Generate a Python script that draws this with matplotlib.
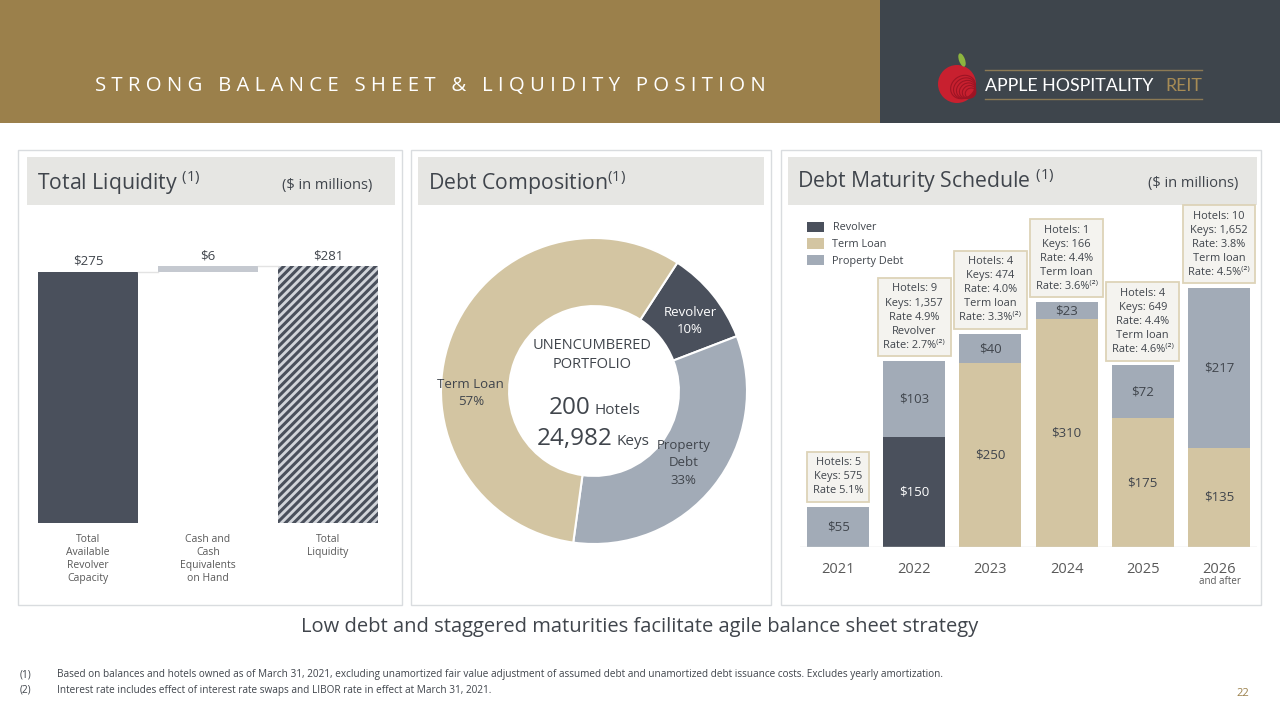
import matplotlib
matplotlib.use("Agg")
import matplotlib.pyplot as plt
from matplotlib.patches import Rectangle, Circle, Ellipse
import numpy as np

plt.rcParams['font.family'] = ['Open Sans', 'DejaVu Sans']
plt.rcParams['mathtext.fontset'] = 'custom'
plt.rcParams['mathtext.rm'] = 'Open Sans'
plt.rcParams['mathtext.default'] = 'regular'
plt.rcParams['hatch.linewidth'] = 2.2

# ---- data ----
liq_labels = ["Total\nAvailable\nRevolver\nCapacity", "Cash and\nCash\nEquivalents\non Hand", "Total\nLiquidity"]
liq_values = [275, 6, 281]

comp_labels = ["Revolver\n10%", "Property\nDebt\n33%", "Term Loan\n57%"]
comp_pct = [10, 33, 57]

years = ["2021", "2022", "2023", "2024", "2025", "2026"]
revolver = [0, 150, 0, 0, 0, 0]
term_loan = [0, 0, 250, 310, 175, 135]
property_debt = [55, 103, 40, 23, 72, 217]
maturity_notes = [
    "Hotels: 5\nKeys: 575\nRate 5.1%",
    "Hotels: 9\nKeys: 1,357\nRate 4.9%\nRevolver\nRate: 2.7%⁽²⁾",
    "Hotels: 4\nKeys: 474\nRate: 4.0%\nTerm loan\nRate: 3.3%⁽²⁾",
    "Hotels: 1\nKeys: 166\nRate: 4.4%\nTerm loan\nRate: 3.6%⁽²⁾",
    "Hotels: 4\nKeys: 649\nRate: 4.4%\nTerm loan\nRate: 4.6%⁽²⁾",
    "Hotels: 10\nKeys: 1,652\nRate: 3.8%\nTerm loan\nRate: 4.5%⁽²⁾",
]

footnotes = [
    "Based on balances and hotels owned as of March 31, 2021, excluding unamortized fair value adjustment of assumed debt and unamortized debt issuance costs. Excludes yearly amortization.",
    "Interest rate includes effect of interest rate swaps and LIBOR rate in effect at March 31, 2021.",
]

# ---- colours ----
GOLD = '#9B804B'
DARK = '#3E454C'
C_REV = '#4A505C'
C_TERM = '#D3C5A2'
C_PROP = '#A2ABB7'
TXT = '#40454C'
BAND = '#E6E6E3'

W, H = 1280, 720
fig = plt.figure(figsize=(12.8, 7.2), dpi=100)
fig.patch.set_facecolor('white')


def px_axes(x0, y0, x1, y1, **kw):
    # axes from pixel box (top-left origin)
    return fig.add_axes([x0 / W, 1 - y1 / H, (x1 - x0) / W, (y1 - y0) / H], **kw)


bg = fig.add_axes([0, 0, 1, 1])
bg.set_xlim(0, W)
bg.set_ylim(H, 0)
bg.axis('off')

# header
bg.add_patch(Rectangle((0, 0), 880, 123, color=GOLD, lw=0))
bg.add_patch(Rectangle((880, 0), 400, 123, color=DARK, lw=0))
title = "STRONG BALANCE SHEET & LIQUIDITY POSITION"
bg.text(95, 86, " ".join(title), color='white', fontsize=14.7, va='center', ha='left')

# logo
bg.add_patch(Circle((957, 84), 19, color='#C8202F', lw=0))
for k in range(6):
    bg.add_patch(Ellipse((963 + k * 1.5, 87 + k * 1.2), 26 - k * 3, 22 - k * 2.5, angle=-35,
                         fill=False, ec='#9E1424', lw=0.8))
bg.add_patch(Ellipse((962, 60), 6, 14, angle=-20, color='#8DB53F', lw=0))
bg.plot([985, 1202], [70, 70], color='#8C7A55', lw=1)
bg.plot([985, 1202], [99, 99], color='#8C7A55', lw=1)
bg.text(985, 86, "APPLE HOSPITALITY", color='white', fontsize=12.8, va='center', ha='left',
        family=['Lato', 'DejaVu Sans'])
bg.text(1202, 86, "REIT", color='#A68B55', fontsize=12.8, va='center', ha='right',
        family=['Lato', 'DejaVu Sans'])

# panels
panels = [(18, 150, 402, 605), (411, 150, 771, 605), (781, 150, 1261, 605)]
bands = [(27, 157, 395, 205), (418, 157, 764, 205), (788, 157, 1257, 205)]
for (x0, y0, x1, y1) in panels:
    bg.add_patch(Rectangle((x0, y0), x1 - x0, y1 - y0, fill=False, ec='#D9DCDF', lw=1))
for (x0, y0, x1, y1) in bands:
    bg.add_patch(Rectangle((x0, y0), x1 - x0, y1 - y0, color=BAND, lw=0))

bg.text(37, 183, "Total Liquidity $^{(1)}$", color=TXT, fontsize=15.3, va='center')
bg.text(282, 185, "($ in millions)", color=TXT, fontsize=10.5, va='center')
bg.text(428, 183, "Debt Composition$^{(1)}$", color=TXT, fontsize=15.3, va='center')
bg.text(797, 181, "Debt Maturity Schedule $^{(1)}$", color=TXT, fontsize=15.3, va='center')
bg.text(1148, 184, "($ in millions)", color=TXT, fontsize=10.5, va='center')

# ---- total liquidity waterfall ----
ax1 = px_axes(28, 223, 388, 523)
ax1.patch.set_alpha(0)
scale1 = 0.913
ax1.set_xlim(-0.5, 2.5)
ax1.set_ylim(0, 300 / scale1)
xl = np.arange(len(liq_values))
bw = 100 / 120
ax1.bar(xl[0], liq_values[0], width=bw, color=C_REV)
ax1.bar(xl[1], liq_values[1], width=bw, bottom=liq_values[0], color='#C5C9D0')
ax1.bar(xl[2], liq_values[2], width=bw, color='#D2D5DA', edgecolor=C_REV, hatch='////', lw=0)
ax1.plot([xl[0] + bw / 2, xl[1] - bw / 2], [liq_values[0]] * 2, color='#E3E3E3', lw=1)
ax1.plot([xl[1] + bw / 2, xl[2] - bw / 2], [liq_values[2]] * 2, color='#E3E3E3', lw=1)
tops = [liq_values[0], liq_values[0] + liq_values[1], liq_values[2]]
for x, t, v in zip(xl, tops, liq_values):
    ax1.annotate(f"${v}", (x, t), xytext=(0, 3), textcoords='offset points',
                 ha='center', va='bottom', fontsize=9.5, color=TXT)
ax1.set_xticks(xl)
ax1.set_xticklabels(liq_labels, fontsize=7.5, color='#595959', linespacing=1.25)
ax1.tick_params(axis='x', length=0, pad=8)
ax1.set_yticks([])
for s in ax1.spines.values():
    s.set_visible(False)

# ---- debt composition donut ----
ax2 = px_axes(594 - 160, 391 - 160, 594 + 160, 391 + 160)
ax2.patch.set_alpha(0)
wedges, _ = ax2.pie(comp_pct, colors=[C_REV, C_PROP, C_TERM], startangle=57, counterclock=False,
                    radius=153 / 160, wedgeprops=dict(width=0.445 * 153 / 160, ec='white', lw=1.5))
ax2.set_xlim(-1, 1)
ax2.set_ylim(-1, 1)
lab_pos = [(0.6, 0.44), (0.56, -0.45), (-0.77, -0.01)]
lab_col = ['white', TXT, TXT]
for (lx, ly), lab, c in zip(lab_pos, comp_labels, lab_col):
    ax2.text(lx, ly, lab, ha='center', va='center', fontsize=9.5, color=c, linespacing=1.4)

bg.text(592, 355, "UNENCUMBERED\nPORTFOLIO", ha='center', va='center', fontsize=10.5,
        color=TXT, linespacing=1.3)
bg.text(591, 414, "200", ha='right', va='baseline', fontsize=17.5, color=TXT)
bg.text(594, 414, "Hotels", ha='left', va='baseline', fontsize=11, color=TXT)
bg.text(613, 445, "24,982", ha='right', va='baseline', fontsize=17.5, color=TXT)
bg.text(617, 445, "Keys", ha='left', va='baseline', fontsize=11, color=TXT)

# ---- debt maturity schedule ----
ax3 = px_axes(800, 210, 1257, 547)
ax3.patch.set_alpha(0)
scale3 = 0.735
ax3.set_xlim(-0.5, 5.5)
ax3.set_ylim(0, 337 / scale3)
xm = np.arange(len(years))
bw3 = 62 / 76.2
rev = np.array(revolver)
term = np.array(term_loan)
prop = np.array(property_debt)
ax3.bar(xm, rev, width=bw3, color=C_REV, label='Revolver')
ax3.bar(xm, term, width=bw3, bottom=rev, color=C_TERM, label='Term Loan')
ax3.bar(xm, prop, width=bw3, bottom=rev + term, color=C_PROP, label='Property Debt')
ax3.axhline(0, color='#DADADA', lw=1)

for i in range(len(years)):
    base = 0
    for vals, col in [(rev, 'white'), (term, TXT), (prop, TXT)]:
        v = vals[i]
        if v > 0:
            ax3.text(xm[i], base + v / 2, f"${v}", ha='center', va='center', fontsize=9.5, color=col)
            base += v
    total = rev[i] + term[i] + prop[i]
    ax3.annotate(maturity_notes[i], (xm[i], total), xytext=(0, 7.5), textcoords='offset points',
                 ha='center', va='bottom', fontsize=7.9, color=TXT, linespacing=1.38,
                 bbox=dict(boxstyle='square,pad=0.5', fc='#F4F3EF', ec='#DDD3B8', lw=1.3))

ax3.set_xticks(xm)
ax3.set_xticklabels(years, fontsize=10.5, color='#595959')
ax3.tick_params(axis='x', length=0, pad=11)
ax3.set_yticks([])
for s in ax3.spines.values():
    s.set_visible(False)
bg.text(1220, 581, "and after", ha='center', va='center', fontsize=7, color='#595959')

leg = ax3.legend(loc='upper left', bbox_to_anchor=(0.0, 0.985), frameon=False, fontsize=7.8,
                 handlelength=1.6, handleheight=1.1, labelspacing=0.45, handletextpad=0.8,
                 borderaxespad=0.2, labelcolor=TXT)

# ---- bottom text ----
bg.text(640, 627, "Low debt and staggered maturities facilitate agile balance sheet strategy",
        ha='center', va='center', fontsize=14.5, color=TXT)
for j, note in enumerate(footnotes):
    y = 675 + j * 15
    bg.text(20, y, f"({j + 1})", ha='left', va='center', fontsize=7.2, color=TXT)
    bg.text(57, y, note, ha='left', va='center', fontsize=7.2, color=TXT)
bg.text(1243, 694, "22", ha='center', va='center', fontsize=8, color=GOLD)

fig.savefig("out.png", dpi=100)
